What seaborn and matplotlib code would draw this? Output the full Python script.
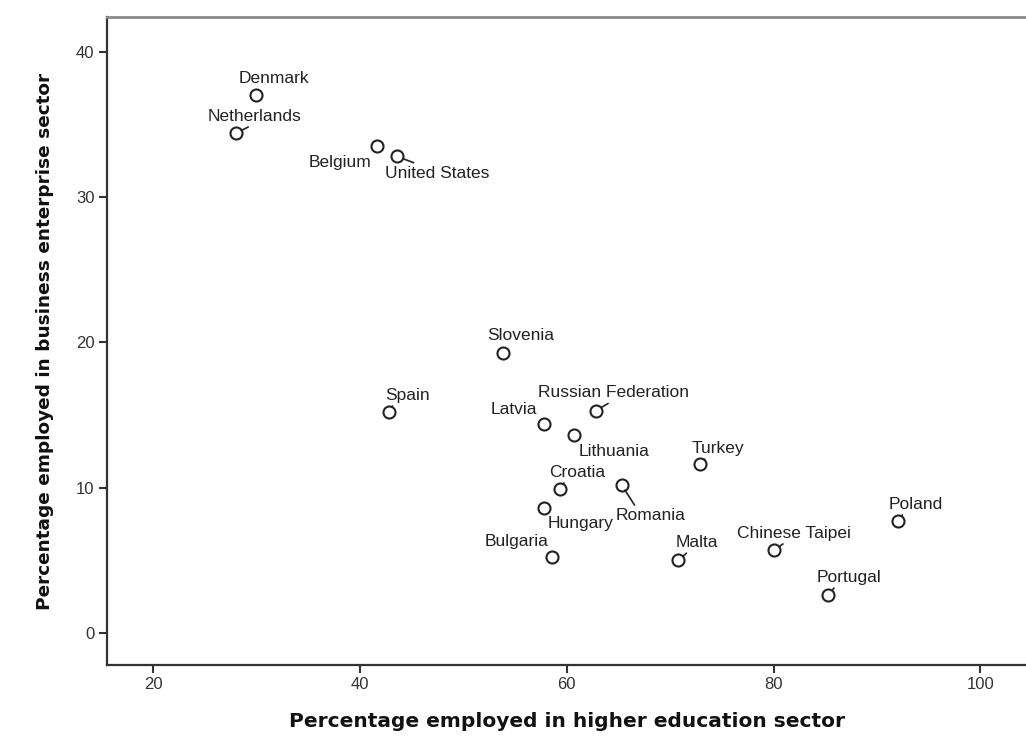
import matplotlib
matplotlib.use("Agg")
import matplotlib.pyplot as plt
import seaborn as sns
import pandas as pd

# data
countries = ["Denmark", "Netherlands", "Belgium", "United States", "Slovenia", "Spain",
             "Russian Federation", "Latvia", "Lithuania", "Turkey", "Croatia", "Romania",
             "Hungary", "Bulgaria", "Malta", "Chinese Taipei", "Poland", "Portugal"]
higher_edu = [30.0, 28.0, 41.7, 43.6, 53.8, 42.8,
              62.8, 57.8, 60.7, 72.9, 59.3, 65.3,
              57.8, 58.6, 70.8, 80.0, 92.0, 85.3]
business = [37.0, 34.4, 33.5, 32.8, 19.3, 15.2,
            15.3, 14.4, 13.6, 11.6, 9.9, 10.2,
            8.6, 5.2, 5.0, 5.7, 7.7, 2.6]
x_ticks = [20, 40, 60, 80, 100]
y_ticks = [0, 10, 20, 30, 40]

# label placement (pixel offsets of label centre from the point), SPSS-style
label_offsets = {
    "Denmark": (17, 17), "Netherlands": (19, 17), "Belgium": (-37, -16),
    "United States": (40, -17), "Slovenia": (18, 17), "Spain": (19, 17),
    "Russian Federation": (18, 18), "Latvia": (-30, 14), "Lithuania": (40, -16),
    "Turkey": (18, 16), "Croatia": (18, 17), "Romania": (29, -31),
    "Hungary": (37, -15), "Bulgaria": (-36, 16), "Malta": (18, 18),
    "Chinese Taipei": (20, 17), "Poland": (18, 17), "Portugal": (21, 18),
}
# leader lines: where on the label box the line starts
leaders = {
    "Netherlands": (0.5, 0), "United States": (0.32, 1.1), "Russian Federation": (0.5, 0),
    "Romania": (0.3, 1), "Chinese Taipei": (0.45, 0), "Turkey": (0.3, 0),
    "Croatia": (0.3, 0), "Malta": (0.35, 0), "Poland": (0.3, 0), "Portugal": (0.3, 0),
    "Spain": (0.2, 0),
}

df = pd.DataFrame({"Country": countries, "HigherEd": higher_edu, "Business": business})

sns.set_theme(style="white")
plt.rcParams["font.family"] = ["Liberation Sans", "DejaVu Sans"]

fig = plt.figure(figsize=(10.26, 7.42), dpi=100)
ax = fig.add_axes([0.1043, 0.1038, 0.8957, 0.8733])

sns.scatterplot(data=df, x="HigherEd", y="Business", ax=ax, s=75,
                facecolor="white", edgecolor="#222222", linewidth=1.5, zorder=3)

for i in range(df.shape[0]):
    name = df["Country"][i]
    dx, dy = label_offsets[name]
    props = None
    if name in leaders:
        props = dict(arrowstyle="-", color="#222222", lw=1.2, shrinkA=0, shrinkB=4.5,
                     relpos=leaders[name])
    ax.annotate(name, (df["HigherEd"][i], df["Business"][i]), xytext=(dx, dy),
                textcoords="offset pixels", ha="center", va="center",
                fontsize=12.5, color="#222222", arrowprops=props, zorder=4)

ax.set_xlim(15.55, 104.4)
ax.set_ylim(-2.2, 42.4)
ax.set_xticks(x_ticks)
ax.set_yticks(y_ticks)
ax.tick_params(axis="both", direction="out", length=6, width=1.5, color="#333333",
               labelsize=12, labelcolor="#333333", left=True, bottom=True, pad=3)

ax.set_xlabel("Percentage employed in higher education sector", family="DejaVu Sans",
              fontsize=14.5, fontweight="bold", color="#111111", labelpad=14)
ax.set_ylabel("Percentage employed in business enterprise sector", family="DejaVu Sans",
              fontsize=13.3, fontweight="bold", color="#111111", labelpad=16)

for side in ["left", "bottom"]:
    ax.spines[side].set_color("#333333")
    ax.spines[side].set_linewidth(1.6)
ax.spines["top"].set_color("#8a8a8a")
ax.spines["top"].set_linewidth(2)
ax.spines["right"].set_visible(False)

fig.savefig("out.png", dpi=100)
